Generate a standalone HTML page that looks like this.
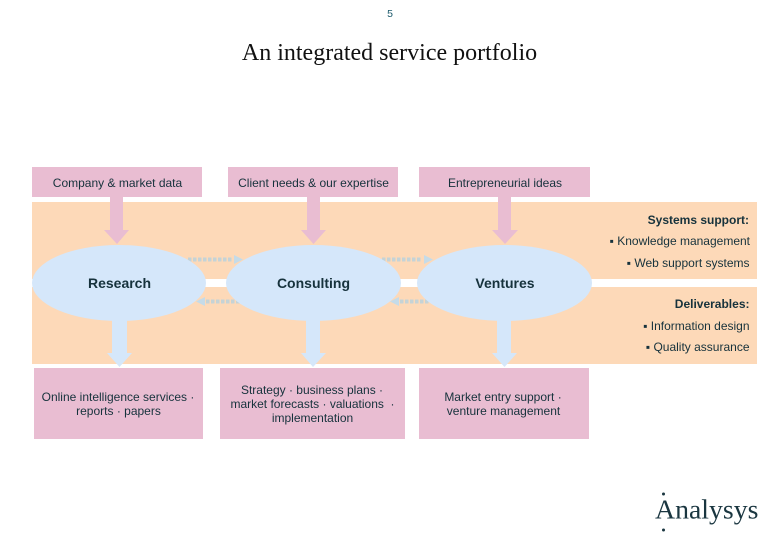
<!DOCTYPE html>
<html>
<head>
<meta charset="utf-8">
<style>
html,body{margin:0;padding:0;background:#fff;}
svg{display:block;}
text{font-family:"Liberation Sans",sans-serif;fill:#16323c;}
</style>
</head>
<body>
<svg width="780" height="540" viewBox="0 0 780 540" xmlns="http://www.w3.org/2000/svg">
<rect width="780" height="540" fill="#fff"/>
<text x="390" y="17" font-size="10.5" text-anchor="middle" style="fill:#1c5a6c">5</text>
<text x="389.500" y="60" font-size="24" text-anchor="middle" style="font-family:'Liberation Serif',serif;fill:#111">An integrated service portfolio</text>

<rect x="32" y="202" width="725" height="77" fill="#fdd9b8"/>
<rect x="32" y="287" width="725" height="77" fill="#fdd9b8"/>

<g fill="#e9bdd2">
<rect x="32" y="167" width="170" height="30"/>
<rect x="228" y="167" width="170" height="30"/>
<rect x="419" y="167" width="171" height="30"/>
<rect x="34" y="368" width="169" height="71"/>
<rect x="220" y="368" width="185" height="71"/>
<rect x="419" y="368" width="170" height="71"/>
<polygon points="110,197 123,197 123,230 129,230 117,244 104,230 110,230"/>
<polygon points="307,197 320,197 320,230 326,230 313.500,244 301,230 307,230"/>
<polygon points="498,197 511,197 511,230 518,230 505,244 492,230 498,230"/>
</g>

<g stroke="#c5d3d6" stroke-width="4" stroke-dasharray="3.500 1.500" fill="none">
<line x1="188" y1="259.500" x2="232" y2="259.500"/>
<line x1="206" y1="301.500" x2="240" y2="301.500"/>
<line x1="382" y1="259.500" x2="422" y2="259.500"/>
<line x1="400" y1="301.500" x2="430" y2="301.500"/>
</g>
<g fill="#c5dbe8">
<polygon points="234,255 243,259.500 234,264"/>
<polygon points="205,297 196,301.500 205,306"/>
<polygon points="424,255 433,259.500 424,264"/>
<polygon points="399,297 390,301.500 399,306"/>
</g>

<g fill="#d5e7fa">
<rect x="112" y="319" width="15" height="35"/>
<polygon points="107,353 132,353 119.500,367"/>
<rect x="306" y="319" width="14" height="35"/>
<polygon points="301,353 326,353 313,367"/>
<rect x="497" y="319" width="14" height="35"/>
<polygon points="492,353 517,353 504.500,367"/>
<ellipse cx="119" cy="283" rx="87" ry="38"/>
<ellipse cx="313.500" cy="283" rx="87.500" ry="38"/>
<ellipse cx="504.500" cy="283" rx="87.500" ry="38"/>
</g>

<g font-size="14" text-anchor="middle" font-weight="bold" style="fill:#123c4a">
<text x="119.500" y="288">Research</text>
<text x="313.500" y="288">Consulting</text>
<text x="505" y="288">Ventures</text>
</g>

<g font-size="12" text-anchor="middle">
<text x="117.500" y="187">Company &amp; market data</text>
<text x="313.500" y="187">Client needs &amp; our expertise</text>
<text x="505" y="187">Entrepreneurial ideas</text>
<text x="118" y="401">Online intelligence services ·</text>
<text x="118.500" y="415">reports · papers</text>
<text x="312" y="394">Strategy · business plans ·</text>
<text x="312.500" y="408">market forecasts · valuations &#160;·</text>
<text x="312.500" y="422">implementation</text>
<text x="503" y="401">Market entry support ·</text>
<text x="503.500" y="415">venture management</text>
</g>

<g font-size="12" text-anchor="end">
<text x="749" y="224" font-weight="bold">Systems support:</text>
<text x="750" y="245">▪ Knowledge management</text>
<text x="749.500" y="267">▪ Web support systems</text>
<text x="749.500" y="308" font-weight="bold">Deliverables:</text>
<text x="749.500" y="330">▪ Information design</text>
<text x="749.500" y="351">▪ Quality assurance</text>
</g>

<text x="655" y="518.500" font-size="27.800" style="font-family:'Liberation Serif',serif;fill:#1a3640">Analysys</text>
<circle cx="663.500" cy="494" r="1.500" fill="#1a3640"/>
<circle cx="663.500" cy="530" r="1.500" fill="#1a3640"/>
</svg>
</body>
</html>
